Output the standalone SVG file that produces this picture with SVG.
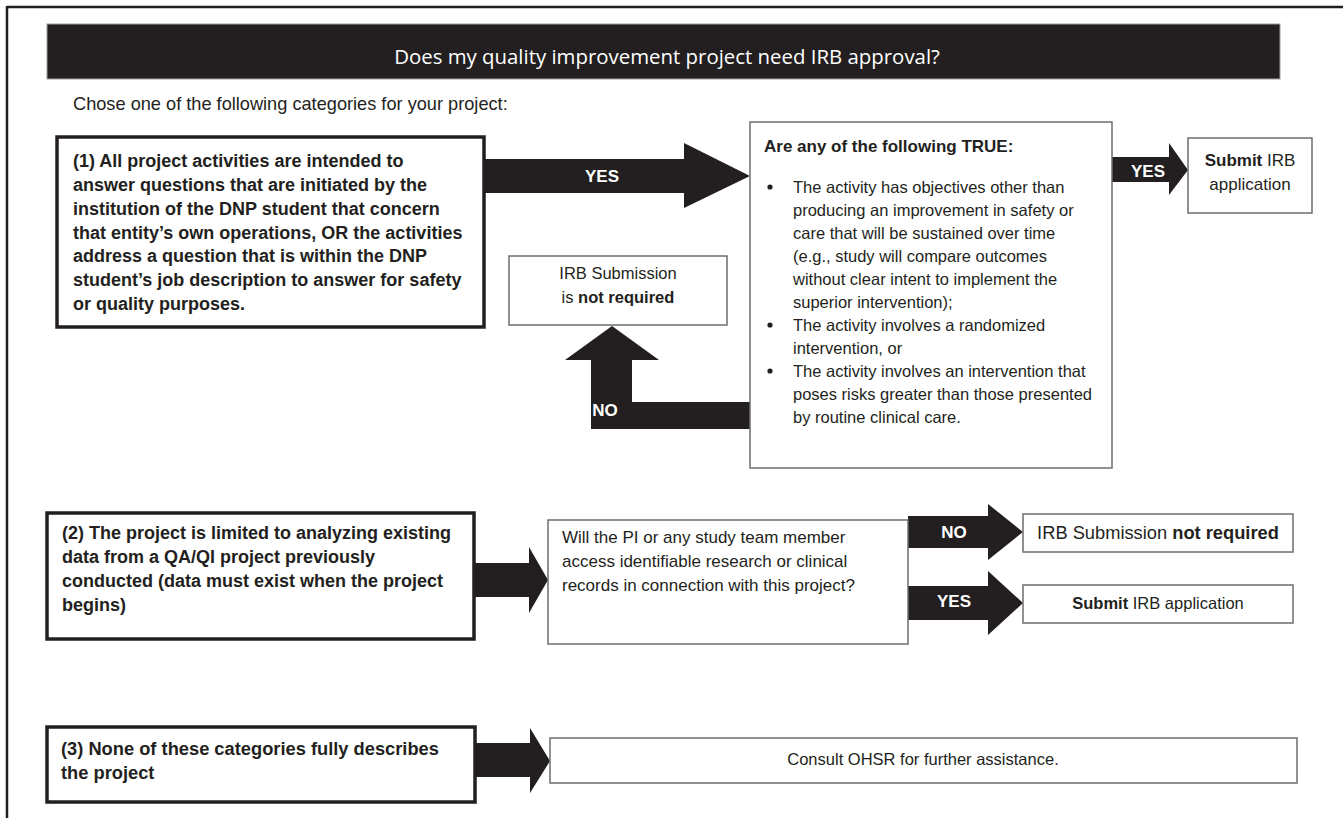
<svg xmlns="http://www.w3.org/2000/svg" width="1343" height="818" viewBox="0 0 1343 818">
<style>
  text { font-family: "Liberation Sans", Arial, sans-serif; fill: #231f20; }
  .title { font-family: "Open Sans", "Noto Sans", sans-serif; font-size: 20.4px; fill: #ffffff; }
  .intro { font-size: 18.2px; }
  .bold { font-weight: bold; }
  .cat { font-size: 18px; font-weight: bold; }
  .reg { font-size: 16.5px; }
  .lbl { font-size: 17px; font-weight: bold; fill: #ffffff; }
  .thick { fill: #ffffff; stroke: #231f20; stroke-width: 3.5; }
  .thin { fill: #ffffff; stroke: #6d6e71; stroke-width: 1.5; }
  .arrow { fill: #231f20; }
  .mid { text-anchor: middle; }
</style>

<g id="frame">
  <line x1="7" y1="7" x2="1343" y2="7" stroke="#231f20" stroke-width="2.5"/>
  <line x1="7" y1="6" x2="7" y2="818" stroke="#231f20" stroke-width="2.5"/>
</g>

<g id="title">
  <rect x="47" y="24" width="1233" height="55" fill="#231f20" stroke="#9d9d9d" stroke-width="1"/>
  <text class="title mid" x="667" y="64">Does my quality improvement project need IRB approval?</text>
</g>

<text class="intro" x="73" y="110">Chose one of the following categories for your project:</text>

<g id="connectors">
  <polygon class="arrow" points="484,159 684,159 684,143 750,176 684,208 684,193 484,193"/>
  <text class="lbl mid" x="602" y="182">YES</text>

  <polygon class="arrow" points="1112,157 1169,157 1169,143 1188,170 1169,195 1169,182 1112,182"/>
  <text class="lbl mid" x="1148" y="177">YES</text>

  <polygon class="arrow" points="751,402 632,402 632,360 659,360 612,326 565,360 591,360 591,429 751,429"/>
  <text class="lbl mid" x="605" y="416">NO</text>

  <polygon class="arrow" points="474,563 529,563 529,547 548,580 529,613 529,597 474,597"/>

  <polygon class="arrow" points="908,516 988,516 988,504 1023,532 988,560 988,548 908,548"/>
  <text class="lbl mid" x="954" y="538">NO</text>

  <polygon class="arrow" points="908,586 988,586 988,571 1023,603 988,635 988,620 908,620"/>
  <text class="lbl mid" x="954" y="607">YES</text>

  <polygon class="arrow" points="475,743 530,743 530,728 550,761 530,793 530,777 475,777"/>
</g>

<g id="cat1">
  <rect class="thick" x="57" y="137" width="427" height="190"/>
  <text class="cat">
    <tspan x="73" y="167">(1) All project activities are intended to</tspan>
    <tspan x="73" y="191">answer questions that are initiated by the</tspan>
    <tspan x="73" y="215">institution of the DNP student that concern</tspan>
    <tspan x="73" y="238.5">that entity’s own operations, OR the activities</tspan>
    <tspan x="73" y="262">address a question that is within the DNP</tspan>
    <tspan x="73" y="286">student’s job description to answer for safety</tspan>
    <tspan x="73" y="310">or quality purposes.</tspan>
  </text>
</g>

<g id="criteria">
  <rect class="thin" x="750" y="122" width="362" height="346"/>
  <text class="bold" style="font-size:17px" x="764" y="152">Are any of the following TRUE:</text>
  <circle cx="770" cy="187" r="2.6" fill="#231f20"/>
  <circle cx="770" cy="325" r="2.6" fill="#231f20"/>
  <circle cx="770" cy="371" r="2.6" fill="#231f20"/>
  <text class="reg">
    <tspan x="793" y="193">The activity has objectives other than</tspan>
    <tspan x="793" y="216">producing an improvement in safety or</tspan>
    <tspan x="793" y="239">care that will be sustained over time</tspan>
    <tspan x="793" y="262">(e.g., study will compare outcomes</tspan>
    <tspan x="793" y="285">without clear intent to implement the</tspan>
    <tspan x="793" y="308">superior intervention);</tspan>
    <tspan x="793" y="331">The activity involves a randomized</tspan>
    <tspan x="793" y="354">intervention, or</tspan>
    <tspan x="793" y="377">The activity involves an intervention that</tspan>
    <tspan x="793" y="400">poses risks greater than those presented</tspan>
    <tspan x="793" y="423">by routine clinical care.</tspan>
  </text>
</g>

<g id="submit1">
  <rect class="thin" x="1188" y="138" width="124" height="75"/>
  <text class="reg mid" style="font-size:17px" x="1250" y="166"><tspan class="bold">Submit</tspan> IRB</text>
  <text class="reg mid" style="font-size:17px" x="1250" y="190">application</text>
</g>

<g id="notreq1">
  <rect class="thin" x="509" y="256" width="218" height="69"/>
  <text class="reg mid" x="618" y="279">IRB Submission</text>
  <text class="reg mid" x="618" y="303">is <tspan class="bold">not required</tspan></text>
</g>

<g id="cat2">
  <rect class="thick" x="47" y="513" width="427" height="126"/>
  <text class="cat">
    <tspan x="62" y="539">(2) The project is limited to analyzing existing</tspan>
    <tspan x="62" y="563">data from a QA/QI project previously</tspan>
    <tspan x="62" y="587">conducted (data must exist when the project</tspan>
    <tspan x="62" y="611">begins)</tspan>
  </text>
</g>

<g id="question">
  <rect class="thin" x="548" y="520" width="360" height="124"/>
  <text class="reg" style="font-size:17px">
    <tspan x="562" y="543">Will the PI or any study team member</tspan>
    <tspan x="562" y="567">access identifiable research or clinical</tspan>
    <tspan x="562" y="591">records in connection with this project?</tspan>
  </text>
</g>

<g id="notreq2">
  <rect class="thin" x="1023" y="514" width="270" height="38"/>
  <text class="reg mid" style="font-size:18.3px" x="1158" y="539">IRB Submission <tspan class="bold">not required</tspan></text>
</g>

<g id="submit2">
  <rect class="thin" x="1023" y="585" width="270" height="38"/>
  <text class="reg mid" x="1158" y="609"><tspan class="bold">Submit</tspan> IRB application</text>
</g>

<g id="cat3">
  <rect class="thick" x="47" y="727" width="428" height="75"/>
  <text class="cat" style="font-size:18.3px">
    <tspan x="61" y="755">(3) None of these categories fully describes</tspan>
    <tspan x="61" y="779">the project</tspan>
  </text>
</g>

<g id="consult">
  <rect class="thin" x="550" y="738" width="747" height="45"/>
  <text class="reg mid" x="923" y="765">Consult OHSR for further assistance.</text>
</g>
</svg>
